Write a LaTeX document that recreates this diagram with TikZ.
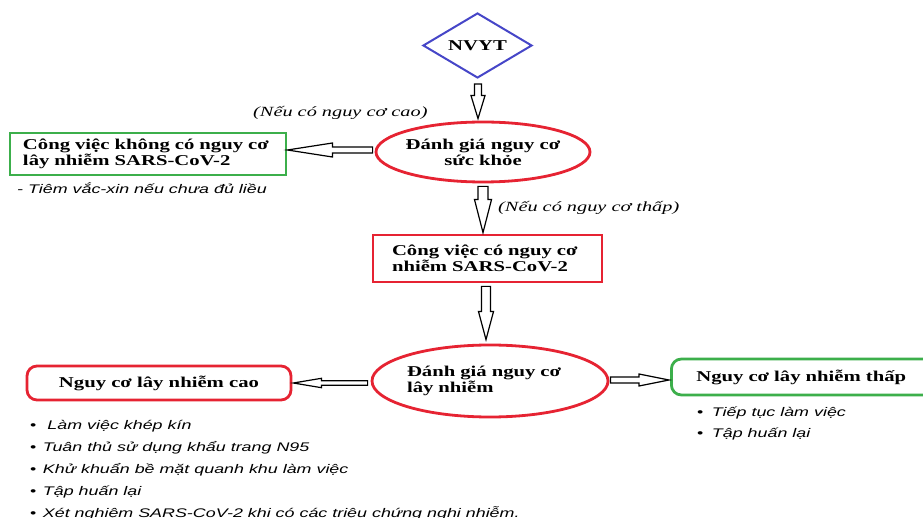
\documentclass[tikz,border=0pt]{standalone}
\usepackage{fontspec}
\setmainfont{Liberation Serif}
\newfontfamily\bserif[FakeStretch=1.38]{Liberation Serif}
\newfontfamily\iserif[FakeStretch=1.45]{Liberation Serif}
\newfontfamily\isans[FakeStretch=1.43]{Liberation Sans}
\usetikzlibrary{shapes.geometric,calc}
\definecolor{cred}{RGB}{230,35,50}
\definecolor{cgreen}{RGB}{60,175,75}
\definecolor{cblue}{RGB}{70,70,200}
\tikzset{
  btxt/.style={font={\bserif\bfseries\fontsize{15}{16}\selectfont}},
  lbl/.style={font={\iserif\itshape\fontsize{14}{16}\selectfont}, anchor=base west, inner sep=0},
  note/.style={font={\isans\itshape\fontsize{12.5}{15}\selectfont}, anchor=base west, inner sep=0},
  redline/.style={draw=cred, line width=2.8pt},
  greenline/.style={draw=cgreen, line width=2.8pt},
  harrow/.style n args={3}{draw=black, line width=1.2pt, fill=white, to path={
    ($(\tikztostart)!#1!90:(\tikztotarget)$) --
    ($(\tikztotarget)!#3!(\tikztostart)!#1!-90:(\tikztostart)$) --
    ($(\tikztotarget)!#3!(\tikztostart)!#2!-90:(\tikztostart)$) --
    (\tikztotarget) --
    ($(\tikztotarget)!#3!(\tikztostart)!#2!90:(\tikztostart)$) --
    ($(\tikztotarget)!#3!(\tikztostart)!#1!90:(\tikztostart)$) --
    ($(\tikztostart)!#1!-90:(\tikztotarget)$) -- cycle}}
}
\begin{document}
\begin{tikzpicture}[x=1pt,y=-1pt]
\useasboundingbox[fill=white] (0,0) rectangle (923,518);
% shapes
\node[diamond, draw=cblue, line width=2pt, aspect=1.68, minimum width=109pt, minimum height=65pt, inner sep=0, btxt] (nvyt) at (477.5,45.5) {NVYT};
\node[ellipse, redline, minimum width=214pt, minimum height=60pt, inner xsep=-3pt, inner ysep=0pt, align=center, btxt] (e1) at (483,152) {Đánh giá nguy cơ\\sức khỏe};
\node[rectangle, greenline, minimum width=276pt, minimum height=42pt, inner sep=0pt, text width=250pt, align=left, btxt] (g1) at (148,154) {Công việc không có nguy cơ\\lây nhiễm SARS-CoV-2};
\node[rectangle, redline, minimum width=229pt, minimum height=47pt, inner sep=0pt, text width=191pt, align=left, btxt] (r2) at (487.5,258.5) {Công việc có nguy cơ\\nhiễm SARS-CoV-2};
\node[ellipse, redline, minimum width=236pt, minimum height=72pt, inner sep=0pt, text width=166pt, align=left, btxt] (e2) at (490,381) {Đánh giá nguy cơ\\lây nhiễm};
\node[rectangle, rounded corners=10pt, redline, minimum width=264pt, minimum height=34pt, inner sep=0pt, btxt] (r3) at (159,383) {Nguy cơ lây nhiễm cao};
\node[rectangle, rounded corners=10pt, greenline, anchor=west, minimum height=36pt, inner xsep=25pt, inner ysep=0pt, text width=220pt, align=left, btxt] (g2) at (670,377) {Nguy cơ lây nhiễm thấp};
% connector end points
\coordinate (a1s) at ($(nvyt.south)+(0.5,5)$);
\coordinate (a1e) at ($(e1.north)+(-5,-2)$);
\coordinate (a2s) at ($(e1.south)+(0,3)$);
\coordinate (a2e) at ($(r2.north)+(-4.5,-1)$);
\coordinate (a3s) at ($(r2.south)+(-1.5,3)$);
\coordinate (a3e) at ($(e2.north)+(-4,-4)$);
\coordinate (a4s) at ($(e1.west)+(-2,-2)$);
\coordinate (a4e) at (g1.east |- a4s);
\coordinate (a5s) at ($(e2.west)+(-3,2)$);
\coordinate (a5e) at ($(r3.east |- a5s)+(1,0)$);
\coordinate (a6s) at ($(e2.east)+(1,-1)$);
\coordinate (a6e) at ($(g2.west |- a6s)+(-1,0)$);
% connectors
\draw[harrow={3.5pt}{7pt}{23pt}] (a1s) to (a1e);
\draw[harrow={5pt}{8.5pt}{33pt}] (a2s) to (a2e);
\draw[harrow={4.5pt}{7.5pt}{28pt}] (a3s) to (a3e);
\draw[harrow={3pt}{7pt}{45pt}] (a4s) to (a4e);
\draw[harrow={2.3pt}{4.7pt}{28pt}] (a5s) to (a5e);
\draw[harrow={3pt}{6pt}{30pt}] (a6s) to (a6e);
% labels
\node[lbl] (l1) at (253,117) {(Nếu có nguy cơ cao)};
\node[lbl] (l2) at (498,212) {(Nếu có nguy cơ thấp)};
\node[note] (n0) at (17,194) {- Tiêm vắc-xin nếu chưa đủ liều};
\node[note] (n1) at (30,429) {{\upshape•}\hspace{11pt}Làm việc khép kín};
\node[note] (n2) at (30,451) {{\upshape•}\hspace{6.5pt}Tuân thủ sử dụng khẩu trang N95};
\node[note] (n3) at (30,473) {{\upshape•}\hspace{6.5pt}Khử khuẩn bề mặt quanh khu làm việc};
\node[note] (n4) at (30,495) {{\upshape•}\hspace{6.5pt}Tập huấn lại};
\node[note] (n5) at (30,517) {{\upshape•}\hspace{6.5pt}Xét nghiệm SARS-CoV-2 khi có các triệu chứng nghi nhiễm.};
\node[note] (m1) at (697,416) {{\upshape•}\hspace{8.5pt}Tiếp tục làm việc};
\node[note] (m2) at (697,437) {{\upshape•}\hspace{8.5pt}Tập huấn lại};
\end{tikzpicture}
\end{document}
